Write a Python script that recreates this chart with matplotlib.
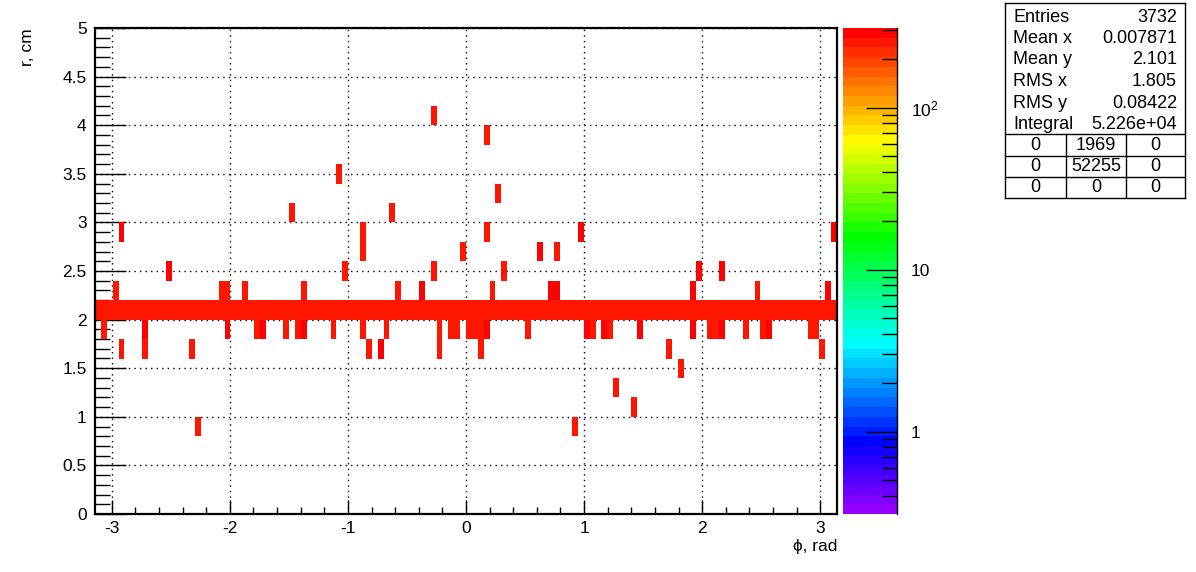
import numpy as np
import matplotlib.pyplot as plt
from matplotlib.colors import LinearSegmentedColormap, LogNorm
from matplotlib.ticker import MultipleLocator, LogLocator, NullFormatter

plt.rcParams['font.family'] = ['Liberation Sans', 'DejaVu Sans']
plt.rcParams['mathtext.fontset'] = 'custom'
plt.rcParams['mathtext.rm'] = 'Liberation Sans'
plt.rcParams['mathtext.it'] = 'Liberation Sans'

# histogram binning (phi in rad, r in cm)
n_phi_bins = 126
n_r_bins = 25
r_range = (0, 5)

# the dense band: every phi bin filled at r = 2.0..2.2
band_r = 2.1
band_count = 250

# isolated filled bins: phi, r, bin content
hit_phi = [-2.96, -2.07, -2.02, -1.86, -1.39, -0.55, -0.39, 0.24, 0.71, 0.76, 1.91, 2.49, 3.06,
           -2.54, -1.03, -0.29, 0.34, 1.97, 2.17,
           -0.87, -0.03, 0.60, 0.76,
           -2.91, -0.87, 0.18, 0.96, 3.12,
           -1.49, -0.60, 0.29, -1.09, 0.18, -0.25,
           -3.06, -2.70, -2.02, -1.76, -1.71, -1.54, -1.44, -1.39, -1.13, -0.87, -0.65,
           -0.24, -0.14, -0.09, 0.02, 0.07, 0.13, 0.18, 0.50, 1.02, 1.07, 1.18, 1.23,
           1.49, 1.91, 2.07, 2.12, 2.17, 2.35, 2.51, 2.57, 2.90, 2.96,
           -2.91, -2.70, -2.33, -0.82, -0.71, -0.24, 0.13, 1.70, 3.01,
           1.80, 1.27, 1.44, -2.29, 0.91]
hit_r = [2.3] * 13 + [2.5] * 6 + [2.7] * 4 + [2.9] * 5 + \
        [3.1, 3.1, 3.3, 3.5, 3.9, 4.1] + [1.9] * 33 + [1.7] * 9 + \
        [1.5, 1.3, 1.1, 0.9, 0.9]
hit_count = [250, 250, 250, 250, 250, 250, 290, 250, 290, 290, 290, 250, 290,
             290, 250, 250, 250, 290, 290,
             250, 250, 290, 250,
             290, 250, 250, 290, 290,
             250, 250, 250, 250, 250, 250,
             250, 290, 290, 250, 290, 250, 250, 290, 250, 250, 250,
             250, 250, 250, 250, 250, 250, 290, 250, 290, 250, 290, 250,
             290, 290, 250, 250, 290, 250, 250, 290, 250, 250,
             250, 250, 250, 250, 290, 250, 250, 250, 250,
             250, 250, 250, 250, 250]

stats_labels = ['Entries', 'Mean x', 'Mean y', 'RMS x', 'RMS y', 'Integral']
stats_values = ['3732', '0.007871', '2.101', '1.805', '0.08422', '5.226e+04']
stats_table = [['0', '1969', '0'], ['0', '52255', '0'], ['0', '0', '0']]

# ROOT-like rainbow palette, 50 levels
cmap = LinearSegmentedColormap.from_list(
    'root_rainbow',
    [(0.0, (0.58, 0.0, 1.0)), (0.14, (0.0, 0.0, 1.0)), (0.35, (0.0, 1.0, 1.0)),
     (0.57, (0.0, 1.0, 0.0)), (0.77, (1.0, 1.0, 0.0)), (1.0, (1.0, 0.0, 0.0))], N=50)
norm = LogNorm(vmin=0.31, vmax=310)

phi_edges = np.linspace(-np.pi, np.pi, n_phi_bins + 1)
r_edges = np.linspace(r_range[0], r_range[1], n_r_bins + 1)
phi_centers = 0.5 * (phi_edges[:-1] + phi_edges[1:])

all_phi = np.concatenate([phi_centers, hit_phi])
all_r = np.concatenate([np.full(n_phi_bins, band_r), hit_r])
all_w = np.concatenate([np.full(n_phi_bins, band_count), hit_count])
H, _, _ = np.histogram2d(all_phi, all_r, bins=[phi_edges, r_edges], weights=all_w)
H = np.ma.masked_equal(H, 0)

W, Hpx = 1196, 572
fig = plt.figure(figsize=(W / 100, Hpx / 100), dpi=100)

ax = fig.add_axes([95 / W, 58 / Hpx, 742 / W, 486 / Hpx])
img = ax.imshow(H.T, origin='lower', extent=[phi_edges[0], phi_edges[-1], r_edges[0], r_edges[-1]],
                aspect='auto', interpolation='nearest', cmap=cmap, norm=norm, zorder=2)
ax.set_xlim(-np.pi, np.pi)
ax.set_ylim(0, 5)
ax.xaxis.set_minor_locator(MultipleLocator(0.2))
ax.yaxis.set_minor_locator(MultipleLocator(0.1))
ax.set_yticks(np.arange(0, 5.01, 0.5))
ax.set_yticklabels(['0', '0.5', '1', '1.5', '2', '2.5', '3', '3.5', '4', '4.5', '5'])
ax.set_xticks(range(-3, 4))
ax.set_xticklabels([str(v) for v in range(-3, 4)])
ax.tick_params(axis='y', which='major', direction='in', length=22, width=1, labelsize=12.5, pad=6)
ax.tick_params(axis='y', which='minor', direction='in', length=11, width=1)
ax.tick_params(axis='x', which='major', direction='in', length=10, width=1, labelsize=12.5, pad=5)
ax.tick_params(axis='x', which='minor', direction='in', length=5, width=1)
ax.grid(True, which='major', linestyle=(0, (1, 3)), color='black', linewidth=1, zorder=1)
ax.set_axisbelow(True)
for s in ax.spines.values():
    s.set_linewidth(1.6)
    s.set_zorder(5)

fig.text(27 / W, 1 - 28 / Hpx, 'r, cm', rotation=90, ha='center', va='top', fontsize=12.5)
fig.text(837 / W, 1 - 546 / Hpx, 'ϕ, rad', ha='right', va='center', fontsize=12.5)

# palette axis
cax = fig.add_axes([843 / W, 58 / Hpx, 54 / W, 486 / Hpx])
cb = fig.colorbar(img, cax=cax)
cb.outline.set_visible(False)
cax.axvline(1, color='black', lw=1, clip_on=False)
cb.set_ticks([1, 10, 100])
cb.set_ticklabels(['1', '10', '$10^{2}$'])
cax.yaxis.set_minor_locator(LogLocator(base=10, subs=np.arange(2, 10)))
cax.yaxis.set_minor_formatter(NullFormatter())
cax.tick_params(which='major', direction='in', length=22, width=1, labelsize=12.5, pad=10)
cax.tick_params(which='minor', direction='in', length=11, width=1)

# stats box
sax = fig.add_axes([1005 / W, 1 - 198 / Hpx, 180 / W, 195 / Hpx])
sax.set_xlim(0, 180)
sax.set_ylim(195, 0)
sax.set_xticks([])
sax.set_yticks([])
for s in sax.spines.values():
    s.set_linewidth(1)
row_h = 21.5
for i, (lab, val) in enumerate(zip(stats_labels, stats_values)):
    y = 14 + i * row_h
    sax.text(8, y, lab, ha='left', va='center', fontsize=13)
    sax.text(172, y, val, ha='right', va='center', fontsize=13)
col_x = [0, 61, 121, 180]
for yl in [131, 152.5, 174]:
    sax.plot([0, 180], [yl, yl], color='black', lw=1)
for xc in col_x[1:3]:
    sax.plot([xc, xc], [131, 195], color='black', lw=1)
for j, row in enumerate(stats_table):
    y = 142 + j * 21.5
    for k, cell in enumerate(row):
        sax.text((col_x[k] + col_x[k + 1]) / 2, y, cell, ha='center', va='center', fontsize=13)

fig.savefig('out.png', dpi=100)
